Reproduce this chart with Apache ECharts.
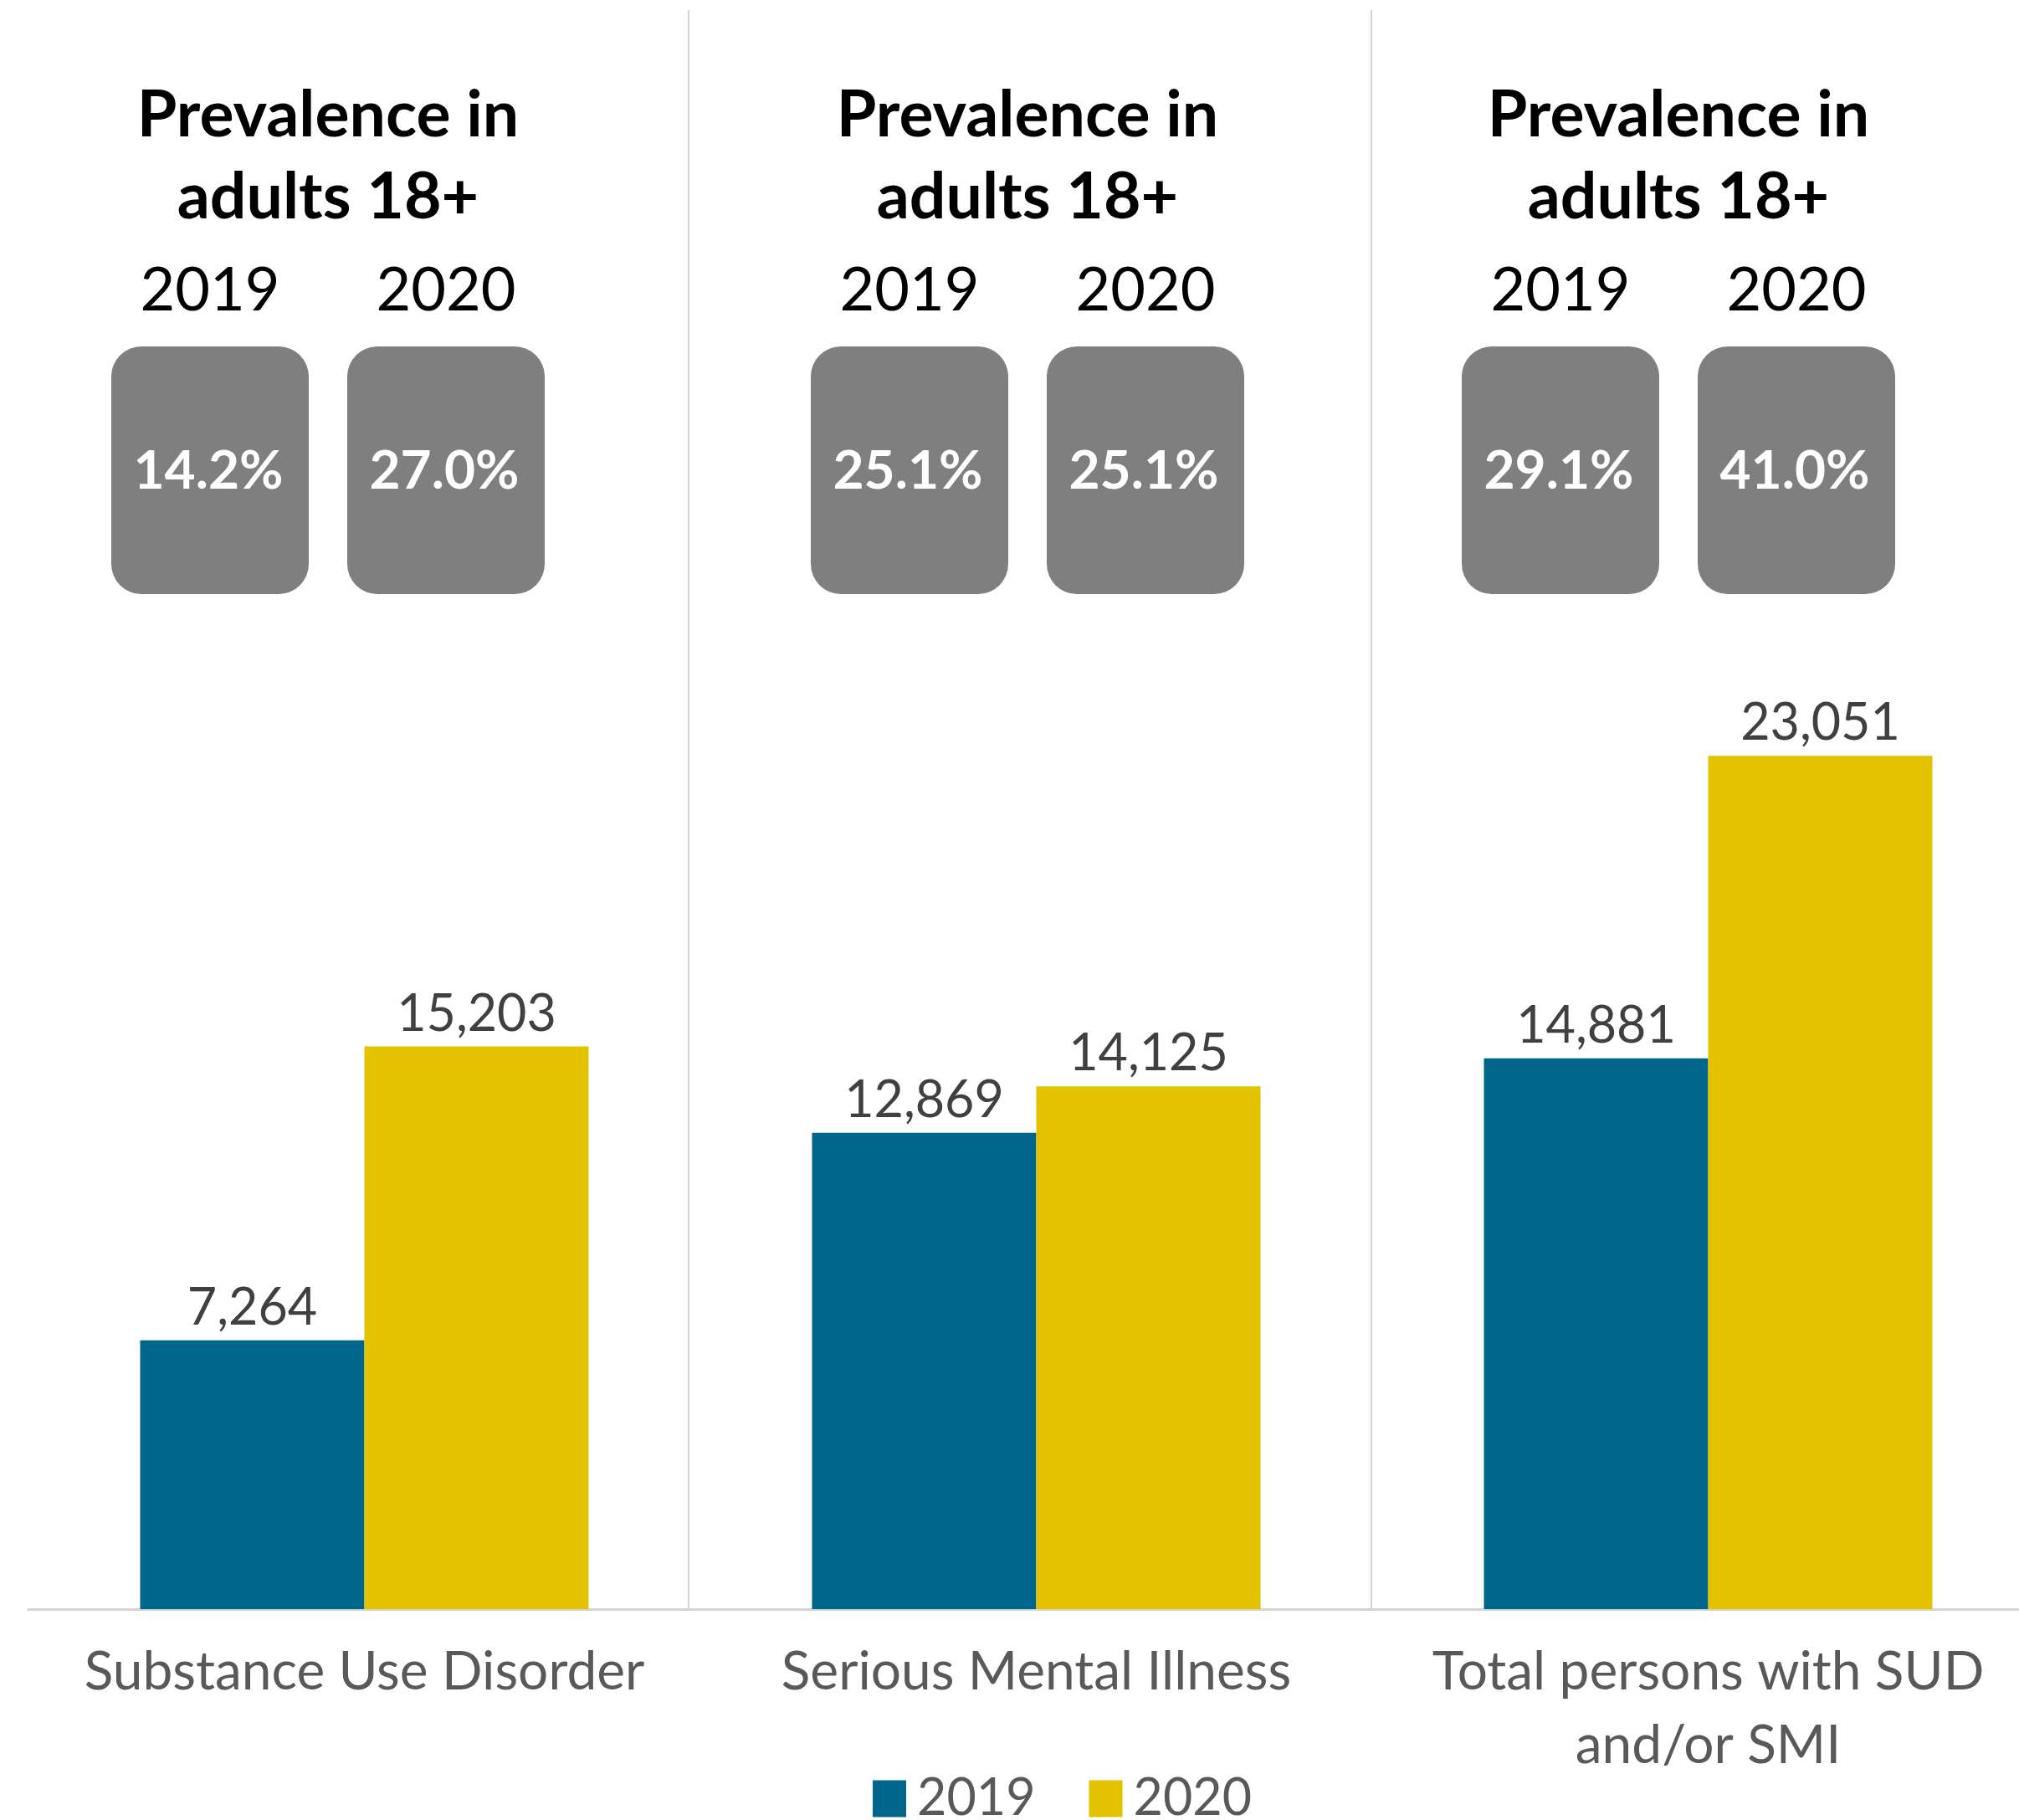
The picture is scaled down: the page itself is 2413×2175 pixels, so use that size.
<!DOCTYPE html>
<html>
<head>
<meta charset="utf-8">
<script src="https://cdn.jsdelivr.net/npm/echarts/dist/echarts.min.js"></script>
<style>
  html, body { margin: 0; padding: 0; background: #ffffff; }
  #chart { width: 2413px; height: 2175px; }
</style>
</head>
<body>
<div id="chart"></div>
<script>
// ---- Data ----
const categories = ['Substance Use Disorder', 'Serious Mental Illness', 'Total persons with SUD\nand/or SMI'];
const seriesNames = ['2019', '2020'];
const values2019 = [7264, 12869, 14881];
const values2020 = [15203, 14125, 23051];
const prevalence2019 = ['14.2%', '25.1%', '29.1%'];
const prevalence2020 = ['27.0%', '25.1%', '41.0%'];
const panelTitleLines = ['Prevalence in', 'adults 18+'];
const yearLabels = ['2019', '2020'];

// ---- Style / layout ----
const COLOR_2019 = '#00658A';
const COLOR_2020 = '#E3C200';
const FONT = 'Lato';
const panelCenters = [392, 1228, 2006];
const dividerX = [823, 1639];
const boxOffset = 141;
const boxW = 236, boxH = 296, boxTop = 414;

const chart = echarts.init(document.getElementById('chart'), null, { renderer: 'canvas' });

const graphics = [];
dividerX.forEach(function (x) {
  graphics.push({
    type: 'line', z: -1,
    shape: { x1: x, y1: 12, x2: x, y2: 1922 },
    style: { stroke: '#D4D4D4', lineWidth: 2 }
  });
});
panelCenters.forEach(function (cx, i) {
  graphics.push({
    type: 'text', x: cx, y: 138,
    style: { text: panelTitleLines[0], fill: '#000000', font: 'bold 77px ' + FONT, textAlign: 'center', textVerticalAlign: 'middle' }
  });
  graphics.push({
    type: 'text', x: cx, y: 236,
    style: { text: panelTitleLines[1], fill: '#000000', font: 'bold 77px ' + FONT, textAlign: 'center', textVerticalAlign: 'middle' }
  });
  const prevs = [prevalence2019[i], prevalence2020[i]];
  [-1, 1].forEach(function (side, j) {
    const bx = cx + side * boxOffset;
    graphics.push({
      type: 'text', x: bx, y: 348,
      style: { text: yearLabels[j], fill: '#000000', font: '72px ' + FONT, textAlign: 'center', textVerticalAlign: 'middle' }
    });
    graphics.push({
      type: 'rect',
      shape: { x: bx - boxW / 2, y: boxTop, width: boxW, height: boxH, r: 36 },
      style: { fill: '#7F7F7F' }
    });
    graphics.push({
      type: 'text', x: bx - 2, y: 563,
      style: { text: prevs[j], fill: '#FFFFFF', font: 'bold 64px ' + FONT, textAlign: 'center', textVerticalAlign: 'middle' }
    });
  });
});

const labelOpt = {
  show: true,
  position: 'top',
  distance: 8,
  color: '#404040',
  fontFamily: FONT,
  fontSize: 61,
  formatter: function (p) { return p.value.toLocaleString('en-US'); }
};

chart.setOption({
  animation: false,
  backgroundColor: '#ffffff',
  grid: { left: 34, width: 2409, top: 12, bottom: 252, containLabel: false, outerBoundsMode: 'none' },
  legend: {
    data: seriesNames,
    icon: 'rect',
    itemWidth: 40,
    itemHeight: 44,
    itemGap: 64,
    left: 1038,
    top: 2114,
    textStyle: { fontFamily: FONT, fontSize: 61, lineHeight: 60, color: '#595959', padding: [0, 0, 0, 8] }
  },
  xAxis: {
    type: 'category',
    data: categories,
    boundaryGap: true,
    axisLine: { show: true, lineStyle: { color: '#D4D4D4', width: 3 } },
    axisTick: { show: false },
    splitLine: { show: false },
    axisLabel: {
      interval: 0,
      margin: 31,
      color: '#595959',
      fontFamily: FONT,
      fontSize: 64,
      lineHeight: 88
    }
  },
  yAxis: {
    type: 'value',
    min: 0,
    max: 43200,
    show: false,
    splitLine: { show: false }
  },
  series: [
    {
      name: seriesNames[0], type: 'bar', data: values2019,
      barWidth: 268, barGap: '0%',
      itemStyle: { color: COLOR_2019 },
      label: labelOpt
    },
    {
      name: seriesNames[1], type: 'bar', data: values2020,
      barWidth: 268, barGap: '0%',
      itemStyle: { color: COLOR_2020 },
      label: labelOpt
    }
  ],
  graphic: graphics
});
</script>
</body>
</html>
